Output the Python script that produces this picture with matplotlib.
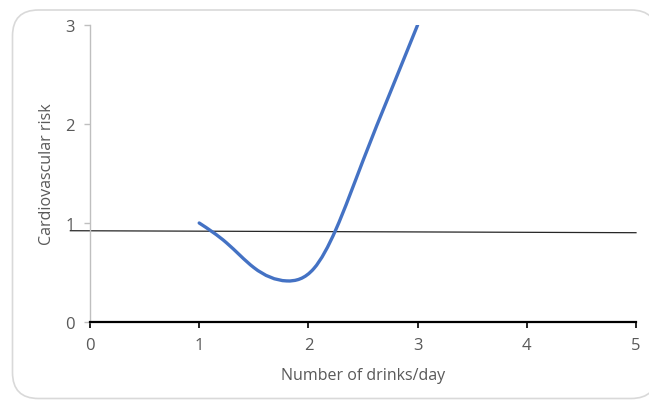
import numpy as np
import matplotlib
matplotlib.use("Agg")
import matplotlib.pyplot as plt
from matplotlib.path import Path
from matplotlib.patches import PathPatch, FancyBboxPatch

# Data
drinks = [1.0, 1.25, 1.5, 1.8, 2.05, 2.25, 2.5, 2.75, 3.0]
risk = [1.0, 0.80, 0.55, 0.415, 0.54, 0.93, 1.63, 2.32, 3.0]
ref_x = [-0.18, 5.0]
ref_y = [0.922, 0.902]
x_ticks = [0, 1, 2, 3, 4, 5]
y_ticks = [0, 1, 2, 3]

plt.rcParams['font.family'] = ['Open Sans', 'DejaVu Sans']
grey = '#595959'

fig = plt.figure(figsize=(6.49, 4.06), dpi=100)
fig.patch.set_facecolor('white')

# rounded chart border
border = FancyBboxPatch((12.5 / 649, 6.5 / 406), (649 - 12.5 + 8) / 649, (395 - 6.5) / 406,
                        boxstyle="round,pad=0,rounding_size=0.04",
                        transform=fig.transFigure, facecolor='white',
                        edgecolor='#d9d9d9', linewidth=1.2, zorder=-10, mutation_aspect=649/406)
fig.patches.append(border)

ax = fig.add_axes([90 / 649, (406 - 323) / 406, 546 / 649, 297 / 406])
ax.set_facecolor('none')
ax.set_xlim(0, 5)
ax.set_ylim(0, 3)

# smooth line: natural cubic spline through the read points, drawn as Bezier path
xs = np.asarray(drinks, float)
ys = np.asarray(risk, float)
n = len(xs)
h = np.diff(xs)
A = np.zeros((n, n))
b = np.zeros(n)
A[0, 0] = A[-1, -1] = 1.0
for i in range(1, n - 1):
    A[i, i - 1] = h[i - 1]
    A[i, i] = 2 * (h[i - 1] + h[i])
    A[i, i + 1] = h[i]
    b[i] = 6 * ((ys[i + 1] - ys[i]) / h[i] - (ys[i] - ys[i - 1]) / h[i - 1])
M = np.linalg.solve(A, b)
verts = [(xs[0], ys[0])]
codes = [Path.MOVETO]
for i in range(n - 1):
    hi = h[i]
    s = (ys[i + 1] - ys[i]) / hi
    d0 = s - hi * (2 * M[i] + M[i + 1]) / 6
    d1 = s + hi * (M[i] + 2 * M[i + 1]) / 6
    verts += [(xs[i] + hi / 3, ys[i] + d0 * hi / 3),
              (xs[i + 1] - hi / 3, ys[i + 1] - d1 * hi / 3),
              (xs[i + 1], ys[i + 1])]
    codes += [Path.CURVE4] * 3
ax.add_patch(PathPatch(Path(verts, codes), facecolor='none', edgecolor='#4472C4',
                       linewidth=2.4, capstyle='round', zorder=3))

ax.plot(ref_x, ref_y, color='#262626', linewidth=0.9, clip_on=False, zorder=2)

for s in ['top', 'right']:
    ax.spines[s].set_visible(False)
ax.spines['left'].set_color('#bfbfbf')
ax.spines['left'].set_linewidth(1.0)
ax.spines['bottom'].set_color('black')
ax.spines['bottom'].set_linewidth(1.6)
ax.spines['bottom'].set_zorder(4)

ax.set_xticks(x_ticks)
ax.set_yticks(y_ticks)
ax.tick_params(axis='y', colors='#bfbfbf', length=4, width=1, labelcolor=grey,
               labelsize=12, pad=7)
ax.tick_params(axis='x', colors='black', length=4, width=1.2, labelcolor=grey,
               labelsize=12, pad=6.5)

ax.set_xlabel('Number of drinks/day', color=grey, fontsize=11.5, va='center')
ax.xaxis.set_label_coords(0.5, -(376 - 323) / 297)
ax.set_ylabel('Cardiovascular risk', color=grey, fontsize=11.5, va='center')
ax.yaxis.set_label_coords(-(90 - 47) / 546, 0.5)

fig.savefig('out.png', dpi=100)
